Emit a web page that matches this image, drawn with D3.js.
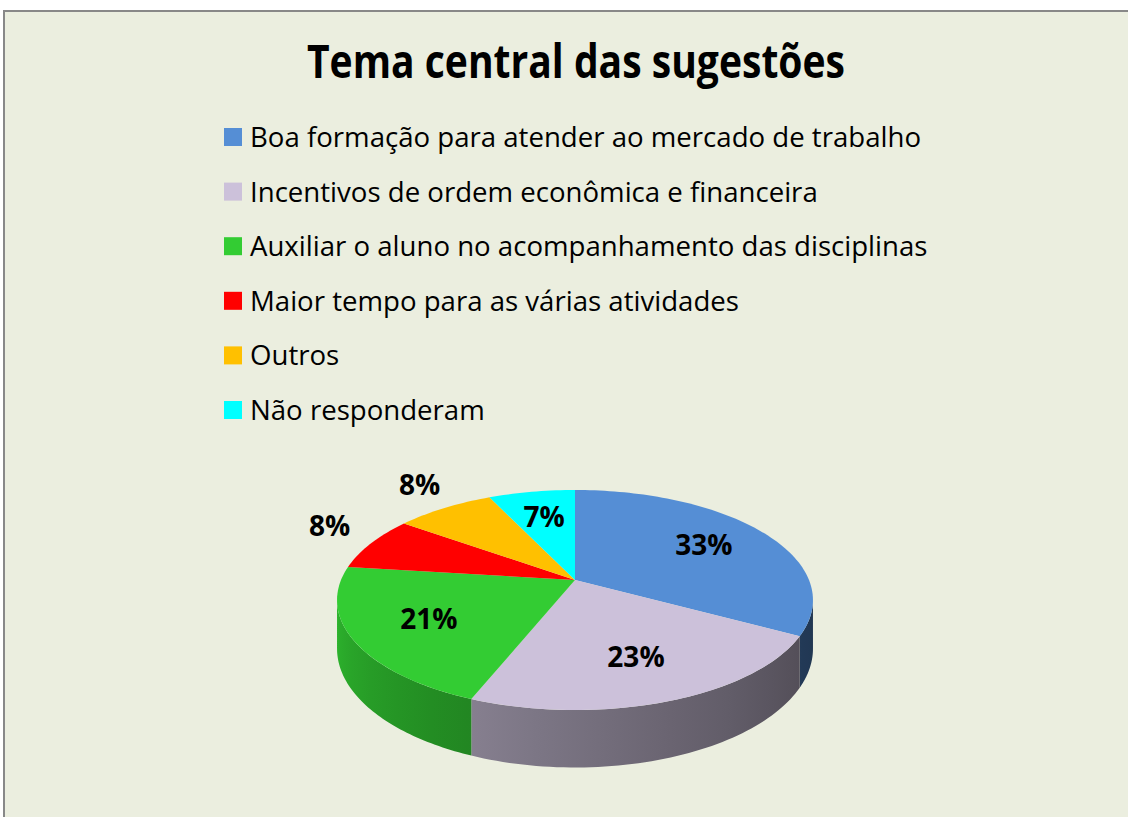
<!DOCTYPE html>
<html>
<head>
<meta charset="utf-8">
<script src="https://cdn.jsdelivr.net/npm/d3@7"></script>
<style>
  body { margin: 0; background: #fff; }
  text { font-family: "Open Sans", "Noto Sans", sans-serif; }
</style>
</head>
<body>
<div id="chart"></div>
<script>
// Chart data
const categories = [
    "Boa formação para atender ao mercado de trabalho",
    "Incentivos de ordem econômica e financeira",
    "Auxiliar o aluno no acompanhamento das disciplinas",
    "Maior tempo para as várias atividades",
    "Outros",
    "Não responderam"
];
const values = [33, 23, 21, 8, 8, 7];
const colors = ["#558ED5", "#CCC1DA", "#33CC33", "#FF0000", "#FFC000", "#00FFFF"];
const titleText = "Tema central das sugestões";

const width = 1128, height = 817;

const svg = d3.select("#chart").append("svg")
    .attr("width", width)
    .attr("height", height);

const defs = svg.append("defs");

// Chart area
svg.append("rect")
    .attr("x", 4).attr("y", 11)
    .attr("width", width + 20).attr("height", height)
    .attr("fill", "#EBEEDF")
    .attr("stroke", "#888")
    .attr("stroke-width", 2);

// Title
svg.append("text")
    .attr("x", 576).attr("y", 78)
    .attr("text-anchor", "middle")
    .attr("font-size", 46)
    .attr("font-weight", "bold")
    .attr("textLength", 538)
    .attr("lengthAdjust", "spacingAndGlyphs")
    .text(titleText);

// Legend
const legend = svg.append("g")
    .selectAll("g")
    .data(categories)
    .join("g")
    .attr("transform", (d, i) => `translate(224,${137 + i * 54.6})`);

legend.append("rect")
    .attr("x", 0).attr("y", -9)
    .attr("width", 18).attr("height", 18)
    .attr("fill", (d, i) => colors[i]);

legend.append("text")
    .attr("x", 26).attr("y", 10)
    .attr("font-size", 27.6)
    .attr("fill", "#000")
    .text(d => d);

// 3D pie: perspective projection of a flat disc
const cx = 575, cy = 580;
const R = 234, K = 106.4, D = 5.5, T = 47;

function proj(theta, r, drop) {
    const u = r * Math.sin(theta), v = r * Math.cos(theta);
    const s = D / (D + v);
    return [cx + R * u * s, cy - K * v * s + drop * s];
}

const pie = d3.pie().sort(null).value(d => d)(values);

// visible part of the outer wall (front half, between silhouette points)
const visA = Math.acos(-1 / D), visB = 2 * Math.PI - Math.acos(-1 / D);

function brightness(theta) {
    const t = Math.max(0, Math.min(1, (theta - visA) / (visB - visA)));
    return 0.38 + 0.5 * Math.pow(t, 1.3);
}

const walls = svg.append("g");
pie.forEach((p, i) => {
    const a0 = Math.max(p.startAngle, visA), a1 = Math.min(p.endAngle, visB);
    if (a0 >= a1) return;
    const n = 60;
    const angles = d3.range(n + 1).map(k => a0 + (a1 - a0) * k / n);
    const top = angles.map(a => proj(a, 1, 0));
    const bottom = angles.map(a => proj(a, 1, T)).reverse();

    const x1 = top[0][0], x2 = top[n][0];
    const grad = defs.append("linearGradient")
        .attr("id", `wall-${i}`)
        .attr("gradientUnits", "userSpaceOnUse")
        .attr("x1", x1).attr("x2", x2).attr("y1", 0).attr("y2", 0);
    const base = d3.rgb(colors[i]);
    angles.filter((a, k) => k % 10 === 0).forEach(a => {
        const f = brightness(a);
        grad.append("stop")
            .attr("offset", (proj(a, 1, 0)[0] - x1) / (x2 - x1))
            .attr("stop-color", d3.rgb(base.r * f, base.g * f, base.b * f));
    });

    walls.append("path")
        .attr("d", d3.line()(top.concat(bottom)) + "Z")
        .attr("fill", `url(#wall-${i})`);
});

// Top faces
const tops = svg.append("g");
pie.forEach((p, i) => {
    const n = Math.max(4, Math.ceil((p.endAngle - p.startAngle) * 40));
    const pts = [[cx, cy]].concat(d3.range(n + 1).map(k =>
        proj(p.startAngle + (p.endAngle - p.startAngle) * k / n, 1, 0)));
    tops.append("path")
        .attr("d", d3.line()(pts) + "Z")
        .attr("fill", colors[i]);
});

// Data labels (small slices outside)
const labels = svg.append("g");
pie.forEach((p, i) => {
    const mid = (p.startAngle + p.endAngle) / 2;
    const inside = p.value > 10 || i === values.length - 1;
    const [x, y] = proj(mid, inside ? 0.68 : 1.22, 0);
    labels.append("text")
        .attr("x", x).attr("y", inside ? y + 10 : y)
        .attr("text-anchor", "middle")
        .attr("font-size", 28)
        .attr("font-weight", "bold")
        .attr("fill", "#000")
        .text(`${p.value}%`);
});
</script>
</body>
</html>
